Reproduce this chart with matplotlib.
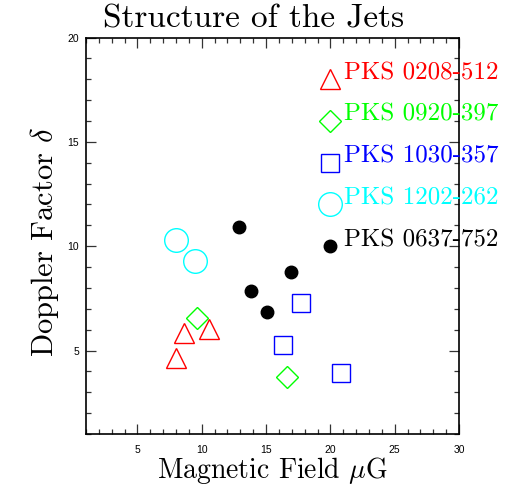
import numpy as np
import matplotlib
matplotlib.use('Agg')
import matplotlib.pyplot as plt
from matplotlib.ticker import MultipleLocator

plt.rcParams['mathtext.fontset'] = 'cm'

# datos
names = ['PKS 0208-512', 'PKS 0920-397', 'PKS 1030-357', 'PKS 1202-262', 'PKS 0637-752']
colors = ['#ff0000', '#00ff00', '#0000ff', '#00ffff', '#000000']
markers = ['^', 'D', 's', 'o', 'o']

b_0208 = [8.6, 10.6, 8.0]
d_0208 = [5.86, 6.04, 4.63]
b_0920 = [9.6, 16.6]
d_0920 = [6.56, 3.71]
b_1030 = [17.7, 16.3, 20.8]
d_1030 = [7.26, 5.25, 3.93]
b_1202 = [8.0, 9.45]
d_1202 = [10.28, 9.31]
b_0637 = [12.9, 16.9, 13.8, 15.1]
d_0637 = [10.93, 8.75, 7.87, 6.83]

bfield = [b_0208, b_0920, b_1030, b_1202, b_0637]
doppler = [d_0208, d_0920, d_1030, d_1202, d_0637]

# posiciones de la leyenda (en unidades de datos)
leg_x = 20.0
leg_y = [18.0, 16.0, 14.0, 12.0, 10.0]

fig = plt.figure(figsize=(5.2, 4.86), dpi=100)
ax = fig.add_axes([0.1654, 0.107, 0.7173, 0.8158])

sizes = [14.5, 11.7, 12.5, 17, 9]

def draw_marker(x, y, i):
    # marcadores huecos excepto el ultimo (relleno)
    if i == 4:
        ax.plot(x, y, linestyle='none', marker='o', ms=sizes[i], mfc='black', mec='black', clip_on=False)
    else:
        ax.plot(x, y, linestyle='none', marker=markers[i], ms=sizes[i], mfc='none', mec=colors[i],
                mew=1.0, clip_on=False)

for i in range(5):
    draw_marker(bfield[i], doppler[i], i)
    draw_marker([leg_x], [leg_y[i]], i)
    ax.text(leg_x + 1.05, leg_y[i], names[i], color=colors[i], fontsize=18,
            family='cmr10', va='baseline', ha='left', clip_on=False)

ax.set_xlim(1, 30)
ax.set_ylim(1, 20)
ax.xaxis.set_major_locator(MultipleLocator(5))
ax.xaxis.set_minor_locator(MultipleLocator(1))
ax.yaxis.set_major_locator(MultipleLocator(5))
ax.yaxis.set_minor_locator(MultipleLocator(1))
ax.tick_params(which='both', direction='in', top=True, right=True, labelsize=7.5,
               width=0.9, color='#333333')
ax.tick_params(which='major', length=7)
ax.tick_params(which='minor', length=3.5)
ax.tick_params(axis='x', pad=8)
ax.tick_params(axis='y', pad=5)
for lab in ax.get_xticklabels() + ax.get_yticklabels():
    lab.set_family('Liberation Sans')
for sp in ax.spines.values():
    sp.set_linewidth(1.2)

# titulos con fig.text para controlar la posicion exacta
fig.text(0.523, 1 - 478 / 486, r'Magnetic Field $\mu$G', fontsize=20, family='cmr10',
         ha='center', va='baseline')
fig.text(45 / 520, 1 - 242 / 486, r'Doppler Factor $\delta$', fontsize=22, family='cmr10',
         ha='center', va='center', rotation=90)
fig.text(0.487, 1 - 28 / 486, 'Structure of the Jets', fontsize=24, family='cmr10',
         ha='center', va='baseline')

plt.savefig('out.png', dpi=100)
